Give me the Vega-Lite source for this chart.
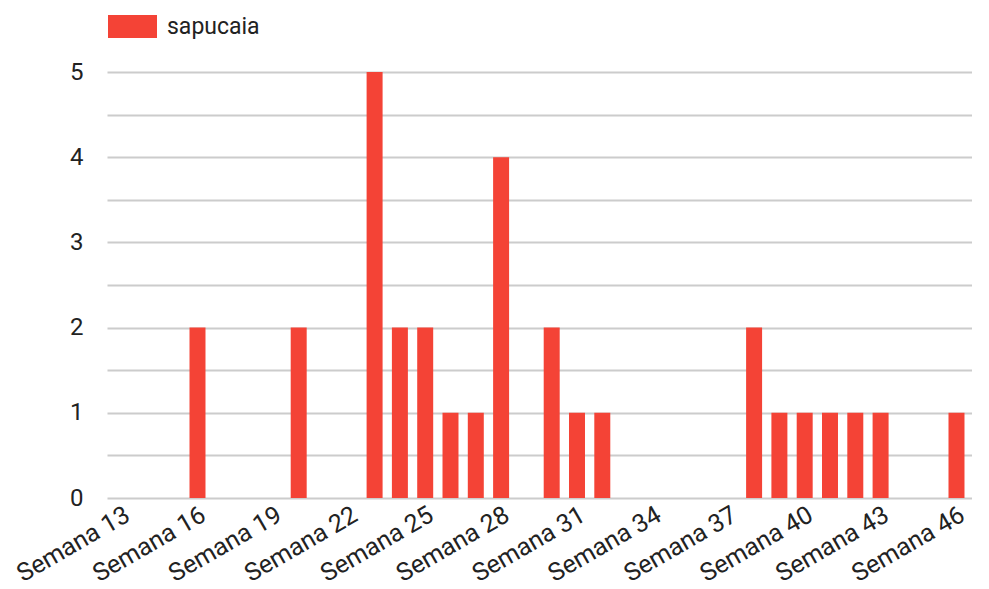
{
  "$schema": "https://vega.github.io/schema/vega-lite/v6.json",
  "autosize": "none",
  "width": 865,
  "height": 426,
  "padding": {"left": 107, "top": 72, "right": 0, "bottom": 91},
  "background": "white",
  "config": {
    "font": "Roboto",
    "view": {"stroke": null}
  },
  "data": {
    "values": [
      {"semana": "Semana 13", "valor": 0, "serie": "sapucaia"},
      {"semana": "Semana 14", "valor": 0, "serie": "sapucaia"},
      {"semana": "Semana 15", "valor": 0, "serie": "sapucaia"},
      {"semana": "Semana 16", "valor": 2, "serie": "sapucaia"},
      {"semana": "Semana 17", "valor": 0, "serie": "sapucaia"},
      {"semana": "Semana 18", "valor": 0, "serie": "sapucaia"},
      {"semana": "Semana 19", "valor": 0, "serie": "sapucaia"},
      {"semana": "Semana 20", "valor": 2, "serie": "sapucaia"},
      {"semana": "Semana 21", "valor": 0, "serie": "sapucaia"},
      {"semana": "Semana 22", "valor": 0, "serie": "sapucaia"},
      {"semana": "Semana 23", "valor": 5, "serie": "sapucaia"},
      {"semana": "Semana 24", "valor": 2, "serie": "sapucaia"},
      {"semana": "Semana 25", "valor": 2, "serie": "sapucaia"},
      {"semana": "Semana 26", "valor": 1, "serie": "sapucaia"},
      {"semana": "Semana 27", "valor": 1, "serie": "sapucaia"},
      {"semana": "Semana 28", "valor": 4, "serie": "sapucaia"},
      {"semana": "Semana 29", "valor": 0, "serie": "sapucaia"},
      {"semana": "Semana 30", "valor": 2, "serie": "sapucaia"},
      {"semana": "Semana 31", "valor": 1, "serie": "sapucaia"},
      {"semana": "Semana 32", "valor": 1, "serie": "sapucaia"},
      {"semana": "Semana 33", "valor": 0, "serie": "sapucaia"},
      {"semana": "Semana 34", "valor": 0, "serie": "sapucaia"},
      {"semana": "Semana 35", "valor": 0, "serie": "sapucaia"},
      {"semana": "Semana 36", "valor": 0, "serie": "sapucaia"},
      {"semana": "Semana 37", "valor": 0, "serie": "sapucaia"},
      {"semana": "Semana 38", "valor": 2, "serie": "sapucaia"},
      {"semana": "Semana 39", "valor": 1, "serie": "sapucaia"},
      {"semana": "Semana 40", "valor": 1, "serie": "sapucaia"},
      {"semana": "Semana 41", "valor": 1, "serie": "sapucaia"},
      {"semana": "Semana 42", "valor": 1, "serie": "sapucaia"},
      {"semana": "Semana 43", "valor": 1, "serie": "sapucaia"},
      {"semana": "Semana 44", "valor": 0, "serie": "sapucaia"},
      {"semana": "Semana 45", "valor": 0, "serie": "sapucaia"},
      {"semana": "Semana 46", "valor": 1, "serie": "sapucaia"}
    ]
  },
  "encoding": {
    "x": {
      "field": "semana",
      "type": "nominal",
      "sort": null,
      "scale": {"paddingInner": 0.368, "paddingOuter": 0.279, "align": 0.468},
      "axis": {
        "title": null,
        "values": ["Semana 13", "Semana 16", "Semana 19", "Semana 22", "Semana 25", "Semana 28", "Semana 31", "Semana 34", "Semana 37", "Semana 40", "Semana 43", "Semana 46"],
        "labelAngle": -30,
        "labelAlign": "right",
        "labelBaseline": "top",
        "labelPadding": 4,
        "labelFont": "Roboto",
        "labelFontSize": 25,
        "labelColor": "#222222",
        "ticks": false,
        "domain": false,
        "grid": false
      }
    }
  },
  "layer": [
    {
      "mark": {"type": "bar", "cornerRadius": 0},
      "encoding": {
        "y": {
          "field": "valor",
          "type": "quantitative",
          "scale": {"domain": [0, 5], "nice": false},
          "axis": {
            "title": null,
            "values": [0, 0.5, 1, 1.5, 2, 2.5, 3, 3.5, 4, 4.5, 5],
            "labelExpr": "datum.value % 1 === 0 ? format(datum.value, 'd') : ''",
            "labelFont": "Roboto",
            "labelFontSize": 24,
            "labelColor": "#222222",
            "gridColor": "#cccccc",
            "gridWidth": 2,
            "ticks": false,
            "domain": false,
            "labelPadding": 24
          }
        },
        "color": {
          "field": "serie",
          "type": "nominal",
          "scale": {"domain": ["sapucaia"], "range": ["#f44336"]},
          "legend": {
            "title": null,
            "orient": "none",
            "legendX": 1,
            "legendY": -70,
            "symbolType": "M-1,-0.47L1,-0.47L1,0.47L-1,0.47Z",
            "symbolSize": 2401,
            "symbolStrokeWidth": 0,
            "symbolOpacity": 1,
            "labelFont": "Roboto",
            "labelFontSize": 23,
            "labelColor": "#222222",
            "labelOffset": 10
          }
        }
      }
    },
    {
      "mark": {"type": "rule", "color": "#000000", "strokeWidth": 2},
      "encoding": {"y": {"datum": 0, "type": "quantitative"}, "x": {"value": 0}, "x2": {"signal": "width"}}
    }
  ]
}
